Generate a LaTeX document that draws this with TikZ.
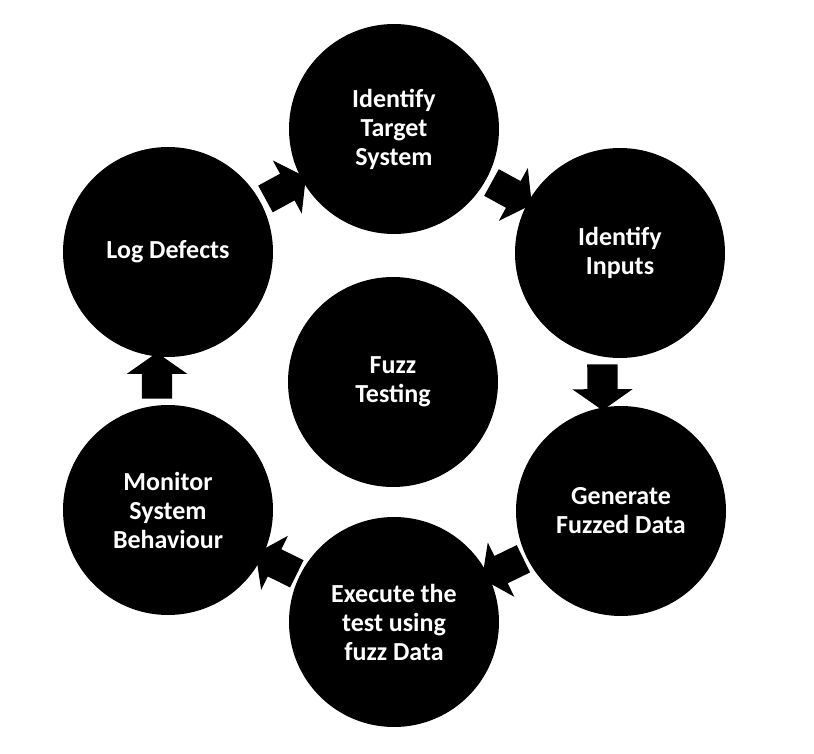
\documentclass[tikz,border=0pt]{standalone}
\usepackage{fontspec}
\setmainfont{Carlito}
\usetikzlibrary{shapes.arrows,calc}
\pgfdeclarelayer{bg}
\pgfsetlayers{bg,main}
\begin{document}
\begin{tikzpicture}[x=1pt,y=-1pt,
  stage/.style={circle,fill=black,minimum size=210pt,inner sep=0pt,
    text=white,align=center,font=\bfseries\fontsize{26}{29}\selectfont},
  blockarrow/.style={single arrow,fill=black,inner sep=15pt,
    minimum height=46pt,single arrow head extend=15pt,
    single arrow tip angle=110,sloped,allow upside down}]
\useasboundingbox (0,0) rectangle (814,754);
\node[stage] (tgt) at (394,129) {Identify\\Target\\System};
\node[stage] (inp) at (620,253) {Identify\\Inputs};
\node[stage] (gen) at (621,511) {Generate\\Fuzzed Data};
\node[stage] (exe) at (394,622) {Execute the\\test using\\fuzz Data};
\node[stage] (mon) at (168,510) {Monitor\\System\\Behaviour};
\node[stage] (log) at (168,252) {Log Defects};
\node[stage] (fuzz) at (393,382) {Fuzz\\Testing};
\begin{pgfonlayer}{bg}
\path (log.center) -- node[blockarrow] (a1) {} (tgt.center);
\path (tgt.center) -- node[blockarrow] (a2) {} (inp.center);
\path ([xshift=-18pt]inp.center) -- node[blockarrow] (a3) {} ([xshift=-18pt]gen.center);
\path (gen.center) -- node[blockarrow] (a4) {} (exe.center);
\path (exe.center) -- node[blockarrow] (a5) {} (mon.center);
\path ([xshift=-11pt]mon.center) -- node[blockarrow] (a6) {} ([xshift=-11pt]log.center);
\end{pgfonlayer}
\end{tikzpicture}
\end{document}
